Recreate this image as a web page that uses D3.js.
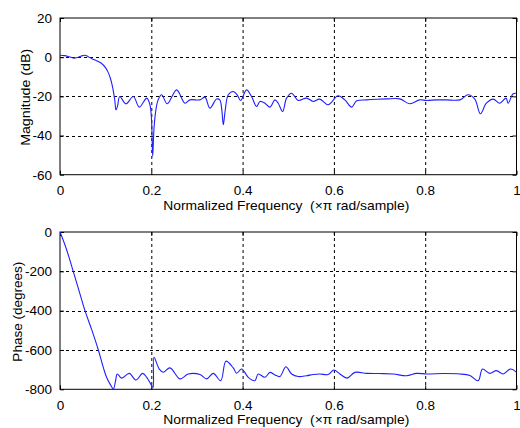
<!DOCTYPE html>
<html><head><meta charset="utf-8">
<script src="https://cdn.jsdelivr.net/npm/d3@7"></script>
<style>
html,body{margin:0;padding:0;background:#fff;}
svg{display:block;}
text{font-family:"Liberation Sans",Arial,sans-serif;fill:#000;white-space:pre;}
</style></head>
<body>
<script>
// ---- data ----
const magFreq = [0,0.01,0.02,0.03,0.04,0.05,0.055,0.06,0.07,0.08,0.09,0.1,0.105,0.11,0.115,0.12,0.1226,0.126,0.131,0.1445,0.1606,0.1737,0.19,0.197,0.2005,0.203,0.206,0.21,0.215,0.2226,0.235,0.2555,0.2737,0.2846,0.3066,0.3175,0.3284,0.343,0.35,0.3545,0.3577,0.362,0.3686,0.3795,0.388,0.3956,0.4087,0.4196,0.4306,0.438,0.4489,0.46,0.4708,0.478,0.4876,0.4964,0.5073,0.5218,0.54,0.5547,0.569,0.5875,0.609,0.624,0.6387,0.65,0.6716,0.6935,0.7154,0.7445,0.766,0.788,0.803,0.825,0.8467,0.876,0.894,0.9087,0.921,0.934,0.949,0.963,0.977,0.9817,0.9926,1.0];
const magDb = [1,0.8,0.2,-0.5,0,0.8,1,0.5,-0.8,-1.8,-3,-5.5,-7.5,-10.5,-15,-22,-26.9,-25,-20.1,-23.8,-20.1,-25.5,-20.9,-24.3,-32,-50.7,-36,-27,-21.8,-19.2,-23.8,-16.7,-23.5,-21.8,-21.8,-20.4,-26,-21.4,-21.8,-27,-34.5,-27,-19.2,-17.5,-19.2,-22.1,-16.7,-20.1,-25.2,-22.6,-23.5,-25.5,-21.8,-23.5,-27.7,-20.9,-18.4,-22.1,-20.9,-22.6,-21.4,-24.3,-19.7,-21.8,-25.5,-22.3,-21.8,-21.5,-21.3,-21.3,-23.8,-21.8,-22.1,-21.8,-21.8,-21.8,-19.2,-21.4,-28.9,-23.5,-21.4,-23.5,-20.9,-23.5,-18.7,-18.4];

const phFreq = [0,0.01,0.02,0.029,0.04,0.0547,0.07,0.084,0.095,0.102,0.11,0.117,0.1215,0.1255,0.135,0.1518,0.1664,0.181,0.19,0.2007,0.204,0.2058,0.2175,0.2262,0.241,0.2628,0.281,0.3066,0.3212,0.3357,0.352,0.3635,0.3795,0.387,0.398,0.4124,0.427,0.434,0.4489,0.46,0.4708,0.4817,0.4949,0.5073,0.5218,0.54,0.5547,0.569,0.5875,0.6,0.613,0.629,0.6459,0.6716,0.7,0.73,0.759,0.781,0.803,0.84,0.876,0.898,0.916,0.9255,0.9415,0.956,0.9707,0.987,1.0];
const phDeg = [0,-60,-130,-200,-285,-400,-500,-600,-690,-739,-775,-798,-760,-722,-743,-719,-753,-719,-739,-781,-790,-637,-697,-713,-691,-747,-722,-725,-747,-719,-756,-657,-691,-718,-697,-739,-756,-722,-739,-714,-727,-735,-685,-722,-735,-731,-725,-722,-725,-702,-722,-743,-714,-719,-720,-722,-731,-719,-722,-720,-722,-730,-756,-697,-719,-705,-722,-697,-714];

const xTicks = [0,0.2,0.4,0.6,0.8,1];
const xTickLabels = ["0","0.2","0.4","0.6","0.8","1"];
const magTicks = [20,0,-20,-40,-60];
const phTicks = [0,-200,-400,-600,-800];
const xTitle = "Normalized Frequency  (\u00d7\u03c0 rad/sample)";
const magTitle = "Magnitude (dB)";
const phTitle = "Phase (degrees)";

// ---- drawing ----
const W = 520, H = 428;
const svg = d3.select("body").append("svg").attr("width", W).attr("height", H);
const left = 60, right = 516.5;
const x = d3.scaleLinear().domain([0,1]).range([left,right]);

function panel(opts){
  const y = d3.scaleLinear().domain(opts.domain).range([opts.bottom, opts.top]);
  const g = svg.append("g");
  const clipId = "clip" + opts.id;
  svg.append("clipPath").attr("id", clipId).append("rect")
    .attr("x", left).attr("y", opts.top).attr("width", right-left).attr("height", opts.bottom-opts.top);
  // grid
  g.selectAll(".gx").data(xTicks.slice(1,-1)).enter().append("line")
    .attr("x1", d=>x(d)+0.5).attr("x2", d=>x(d)+0.5)
    .attr("y1", opts.top).attr("y2", opts.bottom)
    .attr("stroke","#000").attr("stroke-width",1).attr("stroke-dasharray","3,3");
  g.selectAll(".gy").data(opts.ticks.slice(1,-1)).enter().append("line")
    .attr("y1", d=>Math.round(y(d))+0.5).attr("y2", d=>Math.round(y(d))+0.5)
    .attr("x1", left).attr("x2", right)
    .attr("stroke","#000").attr("stroke-width",1).attr("stroke-dasharray","3,3");
  // axes via d3
  const xa = d3.axisBottom(x).tickValues(xTicks).tickFormat((d,i)=>xTickLabels[i]).tickSize(-4).tickPadding(11);
  const gx = g.append("g").attr("transform",`translate(0,${opts.bottom})`).call(xa);
  const xt = d3.axisTop(x).tickValues(xTicks).tickFormat("").tickSize(-4);
  g.append("g").attr("transform",`translate(0,${opts.top})`).call(xt);
  const ya = d3.axisLeft(y).tickValues(opts.ticks).tickSize(-4).tickPadding(8);
  const gy = g.append("g").attr("transform",`translate(${left},0)`).call(ya);
  const yr = d3.axisRight(y).tickValues(opts.ticks).tickFormat("").tickSize(-4);
  g.append("g").attr("transform",`translate(${right},0)`).call(yr);
  g.selectAll(".domain").remove();
  g.selectAll(".tick line").attr("stroke","#000");
  g.selectAll(".tick text").attr("font-size",13.5).attr("font-family",'"Liberation Sans",Arial,sans-serif').attr("fill","#000");
  gy.selectAll(".tick text").text(d=>d<0 ? "-" + Math.abs(d) : String(d));
  // frame
  g.append("rect").attr("x",left).attr("y",opts.top).attr("width",right-left).attr("height",opts.bottom-opts.top)
    .attr("fill","none").attr("stroke","#000").attr("stroke-width",1);
  // line
  const line = d3.line().x(d=>x(d[0])).y(d=>y(d[1])).curve(d3.curveCatmullRom.alpha(0.5));
  svg.append("path").datum(opts.fx.map((f,i)=>[f,opts.vals[i]]))
    .attr("clip-path",`url(#${clipId})`)
    .attr("d",line).attr("fill","none").attr("stroke","#1f1fff").attr("stroke-width",1.1);
  // titles
  svg.append("text").attr("x",(left+right)/2 - 2).attr("y",opts.xTitleY).attr("text-anchor","middle")
    .attr("font-size",13).attr("textLength",246).attr("lengthAdjust","spacingAndGlyphs")
    .attr("xml:space","preserve").text(xTitle);
  svg.append("text").attr("transform",`translate(${opts.yTitleX},${(opts.top+opts.bottom)/2+1}) rotate(-90)`)
    .attr("text-anchor","middle").attr("font-size",13).attr("textLength",opts.yLen).attr("lengthAdjust","spacingAndGlyphs").text(opts.yTitle);
}

panel({id:1, domain:[-60,20], top:18, bottom:174.7, ticks:magTicks, fx:magFreq, vals:magDb, xTitleY:210, yTitleX:29.5, yTitle:magTitle, yLen:97});
panel({id:2, domain:[-800,0], top:232, bottom:389.3, ticks:phTicks, fx:phFreq, vals:phDeg, xTitleY:424, yTitleX:22, yTitle:phTitle, yLen:100});
</script>
</body></html>
